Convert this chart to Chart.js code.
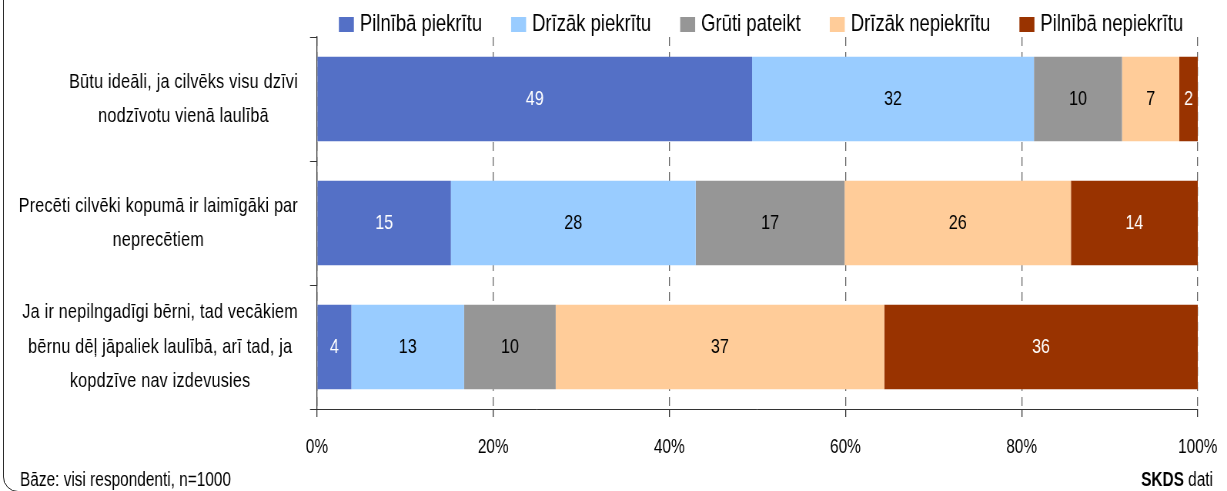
<!DOCTYPE html>
<html><head><meta charset="utf-8">
<script src="https://cdn.jsdelivr.net/npm/chart.js@4"></script>
<style>
html,body{margin:0;padding:0;background:#fff;overflow:hidden;width:1227px;height:491px;position:relative}
#wrap{position:absolute;left:0;top:0;width:1594px;height:491px;transform:scaleX(0.769762);transform-origin:0 0}
#frame{position:absolute;left:3px;top:-30px;width:1240px;height:522px;box-sizing:border-box;border:1.5px solid #2a2a2a;border-radius:15px;pointer-events:none}
</style></head><body>
<div id="wrap"><canvas id="c" width="1594" height="491"></canvas></div>
<div id="frame"></div>
<script>
// ---- data ----
const categories = [
  ["Būtu ideāli, ja cilvēks visu dzīvi", "nodzīvotu vienā laulībā"],
  ["Precēti cilvēki kopumā ir laimīgāki par", "neprecētiem"],
  ["Ja ir nepilngadīgi bērni, tad vecākiem", "bērnu dēļ jāpaliek laulībā, arī tad, ja", "kopdzīve nav izdevusies"]
];
const seriesNames = ["Pilnībā piekrītu", "Drīzāk piekrītu", "Grūti pateikt", "Drīzāk nepiekrītu", "Pilnībā nepiekrītu"];
const pilnibaPiekritu   = [49.4, 15.2, 3.9];
const drizakPiekritu    = [32.0, 27.8, 12.8];
const grutiPateikt      = [10.0, 16.9, 10.4];
const drizakNepiekritu  = [6.5, 25.7, 37.3];
const pilnibaNepiekritu = [2.1, 14.4, 35.6];
const xTickValues = [0, 20, 40, 60, 80, 100];
const footnoteLeft = "Bāze: visi respondenti, n=1000";
const footnoteBold = "SKDS";
const footnoteRest = " dati";

const seriesData = [pilnibaPiekritu, drizakPiekritu, grutiPateikt, drizakNepiekritu, pilnibaNepiekritu];
const colors = ['#5470c6', '#99ccff', '#969696', '#ffcc99', '#993300'];
const labelColors = ['#ffffff', '#000000', '#000000', '#000000', '#ffffff'];

const SX = 1227 / 1594;
const px = v => v / SX;  // screen x -> internal x
const FAMILY = "'Liberation Sans', Arial, sans-serif";

const custom = {
  id: 'custom',
  afterDatasetsDraw(chart) {
    const ctx = chart.ctx;
    ctx.save();
    ctx.font = `21px ${FAMILY}`;
    ctx.textAlign = 'center';
    ctx.textBaseline = 'middle';
    chart.data.datasets.forEach((ds, i) => {
      const meta = chart.getDatasetMeta(i);
      meta.data.forEach((el, j) => {
        ctx.fillStyle = labelColors[i];
        ctx.fillText(String(Math.round(ds.data[j])), (el.x + el.base) / 2, el.y);
      });
    });
    ctx.restore();
  },
  afterDraw(chart) {
    const ctx = chart.ctx;
    const ys = chart.scales.y;
    ctx.save();
    // category labels: block right-aligned, lines centred
    ctx.font = `21px ${FAMILY}`;
    if ('letterSpacing' in ctx) ctx.letterSpacing = '0.3px';
    ctx.fillStyle = '#000';
    ctx.textBaseline = 'middle';
    ctx.textAlign = 'center';
    const right = px(298);
    const lh = 34.5;
    categories.forEach((lines, i) => {
      const cy = ys.getPixelForValue(i);
      const w = Math.max(...lines.map(l => ctx.measureText(l).width));
      const cx = right - w / 2;
      lines.forEach((l, k) => ctx.fillText(l, cx, cy + (k - (lines.length - 1) / 2) * lh));
    });
    if ('letterSpacing' in ctx) ctx.letterSpacing = '0px';
    // legend
    ctx.font = `24px ${FAMILY}`;
    ctx.textAlign = 'left';
    ctx.textBaseline = 'alphabetic';
    const boxW = px(15), boxH = 15, gapT = px(6), gapI = px(29);
    const widths = seriesNames.map(n => ctx.measureText(n).width);
    const total = widths.reduce((a, w) => a + boxW + gapT + w, 0) + gapI * (seriesNames.length - 1);
    let x = px(761) - total / 2;
    seriesNames.forEach((n, i) => {
      ctx.fillStyle = colors[i];
      ctx.fillRect(x, 17, boxW, boxH);
      ctx.fillStyle = '#000';
      ctx.fillText(n, x + boxW + gapT, 31);
      x += boxW + gapT + widths[i] + gapI;
    });
    // footnotes
    ctx.font = `20px ${FAMILY}`;
    ctx.fillText(footnoteLeft, px(20), 486);
    ctx.textAlign = 'right';
    ctx.fillText(footnoteRest, px(1213), 486);
    const restW = ctx.measureText(footnoteRest).width;
    ctx.font = `bold 20px ${FAMILY}`;
    ctx.fillText(footnoteBold, px(1213) - restW, 486);
    ctx.restore();
  }
};

new Chart(document.getElementById('c'), {
  type: 'bar',
  data: {
    labels: categories,
    datasets: seriesNames.map((n, i) => ({
      label: n,
      data: seriesData[i],
      backgroundColor: colors[i],
      borderWidth: 0,
      barPercentage: 0.68,
      categoryPercentage: 1
    }))
  },
  options: {
    indexAxis: 'y',
    responsive: false,
    animation: false,
    devicePixelRatio: 1,
    layout: { padding: { top: 37, right: 38, left: 0, bottom: 0 } },
    plugins: { legend: { display: false }, tooltip: { enabled: false } },
    scales: {
      x: {
        stacked: true, min: 0, max: 100, position: 'bottom',
        afterBuildTicks: s => { s.ticks = xTickValues.map(v => ({ value: v })); },
        ticks: { callback: v => v + '%', color: '#000', font: { family: FAMILY, size: 20 }, padding: 18, maxRotation: 0, autoSkip: false },
        grid: { color: '#666', lineWidth: 1.3, tickLength: 8, tickColor: '#333', tickWidth: 1.3, tickBorderDash: [] },
        border: { display: true, color: '#333', width: 1, dash: [9, 6] },
        afterFit: s => { s.height = 82; s.paddingRight = 26; }
      },
      y: {
        stacked: true,
        ticks: { display: false },
        grid: { drawOnChartArea: false, drawTicks: true, tickLength: px(7), color: '#333', offset: true, lineWidth: 1 },
        border: { display: true, color: '#333', width: 1.3 },
        afterFit: s => { s.width = px(317); }
      }
    }
  },
  plugins: [custom]
});
</script>
</body></html>
